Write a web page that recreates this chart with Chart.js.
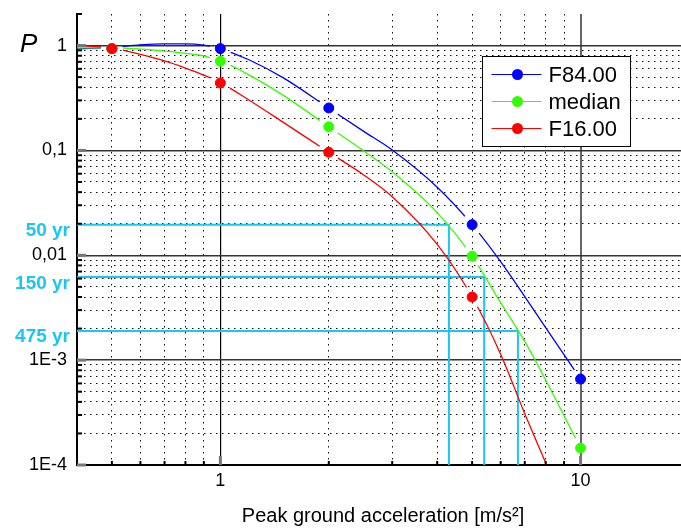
<!DOCTYPE html>
<html>
<head>
<meta charset="utf-8">
<script src="https://cdn.jsdelivr.net/npm/chart.js@4/dist/chart.umd.min.js"></script>
<style>
  html, body { margin: 0; padding: 0; overflow: hidden; background: #fff; }
  #wrap { width: 700px; height: 529px; }
</style>
</head>
<body>
<div id="wrap"><canvas id="c" width="700" height="529"></canvas></div>
<script>
// Fitted exceedance curves, sampled along peak ground acceleration (m/s²)
const accel = [0.4, 0.5, 0.6, 0.7, 0.8, 0.9, 1, 1.2, 1.5, 2, 2.5, 3, 4, 5, 6, 7, 8, 10];
const curveF84 = [0.93, 0.961, 1.016, 1.04, 1.04, 1.01, 0.93, 0.732, 0.489, 0.253, 0.152, 0.101, 0.0446, 0.0196, 0.0087, 0.00403, 0.00204, 0.00066];
const curveMedian = [0.951, 0.951, 0.926, 0.886, 0.843, 0.797, 0.713, 0.526, 0.333, 0.168, 0.0989, 0.0625, 0.0255, 0.00976, 0.00353, 0.00151, 0.000647, 0.000145];
const curveF16 = [1.0, 0.947, 0.824, 0.714, 0.610, 0.523, 0.443, 0.303, 0.184, 0.0959, 0.0584, 0.0361, 0.0127, 0.0040, 0.00114, 0.000308, 0.000105, 0.000016];

// Computed points
const markerAccel = [0.5, 1, 2, 5, 10];
const markF84 = [0.935, 0.935, 0.254, 0.0196, 0.00066];
const markMedian = [0.935, 0.708, 0.168, 0.0098, 0.000145];
const markF16 = [0.935, 0.44, 0.096, 0.0040, null];

// Return-period read-offs on the median curve
const returnLabels = ['50 yr', '150 yr', '475 yr'];
const returnProb = [0.0195, 0.0062, 0.0019];
const returnAccel = [4.31, 5.40, 6.70];

// Axis ranges and labelled ticks
const X_MIN = 0.4, X_MAX = 20, Y_MIN = 1e-4, Y_MAX = 2;
const xMajorTicks = [1, 10];
const xTickLabels = ['1', '10'];
const yMajorTicks = [1e-4, 1e-3, 0.01, 0.1, 1];
const yTickLabels = ['1E-4', '1E-3', '0,01', '0,1', '1'];

const seriesNames = ['F84.00', 'median', 'F16.00'];
const seriesColors = ['#0000ff', '#33ff00', '#ff0000'];
const CYAN = '#19c6f4';
const FONT = '"Liberation Sans", Arial, sans-serif';

const near = (a, b) => Math.abs(Math.log10(a) - Math.log10(b)) < 1e-6;
const isDecade = v => Math.abs(Math.log10(v) - Math.round(Math.log10(v))) < 1e-6;

// 1..9 × 10^n positions inside a range, for the log grid
function logSteps(min, max) {
  const out = [];
  for (let e = -5; e <= 2; e++) {
    for (let m = 1; m <= 9; m++) {
      const v = parseFloat((m * Math.pow(10, e)).toPrecision(4));
      if (v >= min * 0.9999 && v <= max * 1.0001) out.push(v);
    }
  }
  return out;
}

const pts = (xs, ys) => xs.map((x, i) => ({ x, y: ys[i] }));

function curveDS(i, ys, markerIndex, order) {
  return {
    label: seriesNames[i], data: pts(accel, ys), borderColor: seriesColors[i],
    borderWidth: 1.3, pointRadius: 0, fill: false, cubicInterpolationMode: 'monotone',
    gapAround: markerIndex, order
  };
}
function markerDS(i, ys, order) {
  return {
    label: seriesNames[i], data: pts(markerAccel, ys), showLine: false,
    pointRadius: 5, pointHoverRadius: 5, pointBorderWidth: 1,
    pointBackgroundColor: seriesColors[i], pointBorderColor: seriesColors[i], order
  };
}
function returnDS(k) {
  return {
    label: returnLabels[k],
    data: [{ x: X_MIN, y: returnProb[k] }, { x: returnAccel[k], y: returnProb[k] }, { x: returnAccel[k], y: Y_MIN }],
    borderColor: CYAN, borderWidth: 2, pointRadius: 0, tension: 0, order: 10
  };
}

// datasets 0..2 are the point markers; curves refer back to them for line gaps
const datasets = [
  markerDS(0, markF84, 3),
  markerDS(1, markMedian, 2),
  markerDS(2, markF16, 1),
  curveDS(0, curveF84, 0, 6),
  curveDS(1, curveMedian, 1, 5),
  curveDS(2, curveF16, 2, 4),
  returnDS(0), returnDS(1), returnDS(2)
];

// Curves break around their own markers
const GAP_R = 11;
const markerGaps = {
  id: 'markerGaps',
  beforeDatasetDraw(chart, args) {
    const ds = chart.data.datasets[args.index];
    if (ds.gapAround === undefined) return;
    const ctx = chart.ctx;
    const meta = chart.getDatasetMeta(ds.gapAround);
    ctx.save();
    ctx.beginPath();
    ctx.rect(0, 0, chart.width, chart.height);
    meta.data.forEach(el => {
      if (el.skip || !isFinite(el.x) || !isFinite(el.y)) return;
      ctx.moveTo(el.x + GAP_R, el.y);
      ctx.arc(el.x, el.y, GAP_R, 0, Math.PI * 2);
    });
    ctx.clip('evenodd');
  },
  afterDatasetDraw(chart, args) {
    const ds = chart.data.datasets[args.index];
    if (ds.gapAround === undefined) return;
    chart.ctx.restore();
  }
};

// Inner tick marks, axis symbol, return-period labels and legend box
const decorations = {
  id: 'decorations',
  afterDraw(chart) {
    const { ctx, chartArea: a, scales: { x, y } } = chart;
    ctx.save();
    ctx.lineCap = 'butt';
    x.ticks.forEach(t => {
      const px = x.getPixelForValue(t.value);
      if (px < a.left + 1 || px > a.right - 1) return;
      const maj = isDecade(t.value);
      ctx.strokeStyle = maj ? '#777' : '#000';
      ctx.lineWidth = maj ? 3 : 2;
      ctx.beginPath();
      ctx.moveTo(px, a.bottom);
      ctx.lineTo(px, a.bottom - (maj ? 9 : 4));
      ctx.stroke();
    });
    y.ticks.forEach(t => {
      const py = y.getPixelForValue(t.value);
      const maj = isDecade(t.value);
      ctx.strokeStyle = maj ? '#777' : '#000';
      ctx.lineWidth = maj ? 3 : 2;
      ctx.beginPath();
      ctx.moveTo(a.left, py);
      ctx.lineTo(a.left + (maj ? 9 : 5), py);
      ctx.stroke();
    });

    // axis symbol
    ctx.fillStyle = '#000';
    ctx.font = 'italic 26px ' + FONT;
    ctx.textAlign = 'left';
    ctx.textBaseline = 'alphabetic';
    ctx.fillText('P', 20, 52);

    // return-period labels
    ctx.fillStyle = CYAN;
    ctx.font = 'bold 19px ' + FONT;
    ctx.textAlign = 'right';
    returnLabels.forEach((lab, k) => {
      const py = y.getPixelForValue(returnProb[k]);
      ctx.fillText(lab, a.left - 7, py + 11.5);
    });

    // legend
    const bx = a.right - 206.5, by = a.top + 42.5, bw = 148, bh = 90;
    ctx.fillStyle = '#fff';
    ctx.fillRect(bx, by, bw, bh);
    ctx.strokeStyle = '#000';
    ctx.lineWidth = 1;
    ctx.strokeRect(bx, by, bw, bh);
    ctx.font = '22px ' + FONT;
    ctx.textAlign = 'left';
    ctx.textBaseline = 'middle';
    seriesNames.forEach((name, i) => {
      const ry = by + 18 + i * 27;
      ctx.strokeStyle = seriesColors[i];
      ctx.lineWidth = 1;
      ctx.beginPath();
      ctx.moveTo(bx + 9, ry);
      ctx.lineTo(bx + 59, ry);
      ctx.stroke();
      ctx.fillStyle = seriesColors[i];
      ctx.beginPath();
      ctx.arc(bx + 35, ry, 5.5, 0, Math.PI * 2);
      ctx.fill();
      ctx.fillStyle = '#000';
      ctx.fillText(name, bx + 66, ry + 1);
    });
    ctx.restore();
  }
};

function labelFor(v, majors, labels) {
  const i = majors.findIndex(m => near(m, v));
  return i >= 0 ? labels[i] : '';
}

new Chart(document.getElementById('c'), {
  type: 'line',
  data: { datasets },
  plugins: [markerGaps, decorations],
  options: {
    responsive: false,
    animation: false,
    events: [],
    devicePixelRatio: 1,
    layout: { padding: { top: 14, right: 11, left: 0, bottom: 0 }, autoPadding: false },
    plugins: { legend: { display: false }, tooltip: { enabled: false } },
    scales: {
      x: {
        type: 'logarithmic', min: X_MIN, max: X_MAX,
        afterBuildTicks: s => { s.ticks = logSteps(X_MIN, X_MAX).map(v => ({ value: v })); },
        afterFit: s => { s.height = 64; s.paddingLeft = 0; s.paddingRight = 0; },
        ticks: {
          autoSkip: false, maxRotation: 0, padding: 5, color: '#000',
          font: { family: FONT, size: 18 },
          callback: v => labelFor(v, xMajorTicks, xTickLabels)
        },
        grid: {
          drawTicks: false,
          color: c => !c.tick ? '#000' : near(c.tick.value, 10) ? '#666' : isDecade(c.tick.value) ? '#000' : '#111',
          lineWidth: c => !c.tick ? 1 : near(c.tick.value, 10) ? 2 : isDecade(c.tick.value) ? 1.2 : 1
        },
        border: {
          display: true, color: '#000', width: 2,
          dash: c => (c.tick && !isDecade(c.tick.value)) ? [1.5, 4.5] : []
        },
        title: {
          display: true, text: 'Peak ground acceleration [m/s²]', color: '#000',
          font: { family: FONT, size: 20 }, padding: { top: 0, bottom: 1 }
        }
      },
      y: {
        type: 'logarithmic', min: Y_MIN, max: Y_MAX,
        afterBuildTicks: s => { s.ticks = logSteps(Y_MIN, Y_MAX).map(v => ({ value: v })); },
        afterFit: s => { s.width = 77; s.paddingTop = 0; s.paddingBottom = 0; },
        ticks: {
          autoSkip: false, padding: 10, color: '#000',
          font: { family: FONT, size: 18 },
          callback: v => labelFor(v, yMajorTicks, yTickLabels)
        },
        grid: {
          drawTicks: false,
          color: c => !c.tick ? '#000' : near(c.tick.value, Y_MAX) ? 'rgba(0,0,0,0)' : isDecade(c.tick.value) ? '#333' : '#111',
          lineWidth: c => !c.tick ? 1 : isDecade(c.tick.value) ? 1.5 : 1
        },
        border: {
          display: true, color: '#000', width: 2,
          dash: c => (c.tick && !isDecade(c.tick.value)) ? [1.5, 4.5] : []
        }
      }
    }
  }
});
</script>
</body>
</html>
